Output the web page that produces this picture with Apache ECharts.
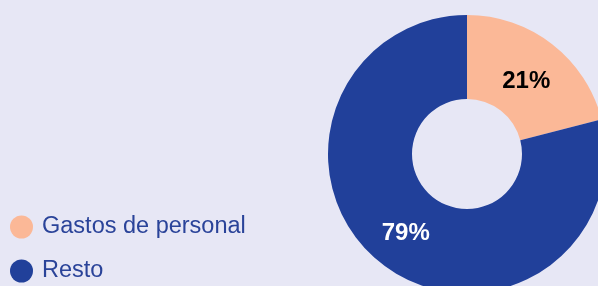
<!DOCTYPE html>
<html>
<head>
<meta charset="utf-8">
<style>
html,body{margin:0;padding:0;background:#e7e7f5;}
#c{width:598px;height:286px;}
</style>
<script src="https://cdn.jsdelivr.net/npm/echarts@6/dist/echarts.min.js"></script>
</head>
<body>
<div id="c"></div>
<script>
const categories = ['Gastos de personal', 'Resto'];
const values = [21, 79];
const colors = ['#fbb897', '#21409a'];
const labelColors = ['#000000', '#ffffff'];
const labelOffsets = [[-2, 6], [0, 0]];

const chart = echarts.init(document.getElementById('c'), null, {renderer: 'canvas'});
chart.setOption({
  backgroundColor: '#e7e7f5',
  animation: false,
  legend: {
    orient: 'vertical',
    left: 10,
    top: 215,
    padding: 0,
    itemWidth: 23,
    itemHeight: 23,
    itemGap: 20,
    icon: 'circle',
    textStyle: {color: '#2a4399', fontSize: 23.5, fontFamily: 'Liberation Sans, Arial, sans-serif', padding: [0, 0, 0, 4]},
    data: categories
  },
  series: [{
    type: 'pie',
    center: [467, 154],
    radius: [55, 139],
    startAngle: 90,
    clockwise: true,
    avoidLabelOverlap: false,
    label: {
      show: true,
      position: 'inside',
      formatter: '{c}%',
      fontSize: 24,
      fontWeight: 'bold',
      fontFamily: 'Liberation Sans, Arial, sans-serif'
    },
    labelLine: {show: false},
    emphasis: {disabled: true},
    data: categories.map((n, i) => ({
      name: n,
      value: values[i],
      itemStyle: {color: colors[i]},
      label: {color: labelColors[i], offset: labelOffsets[i]}
    }))
  }]
});
</script>
</body>
</html>
